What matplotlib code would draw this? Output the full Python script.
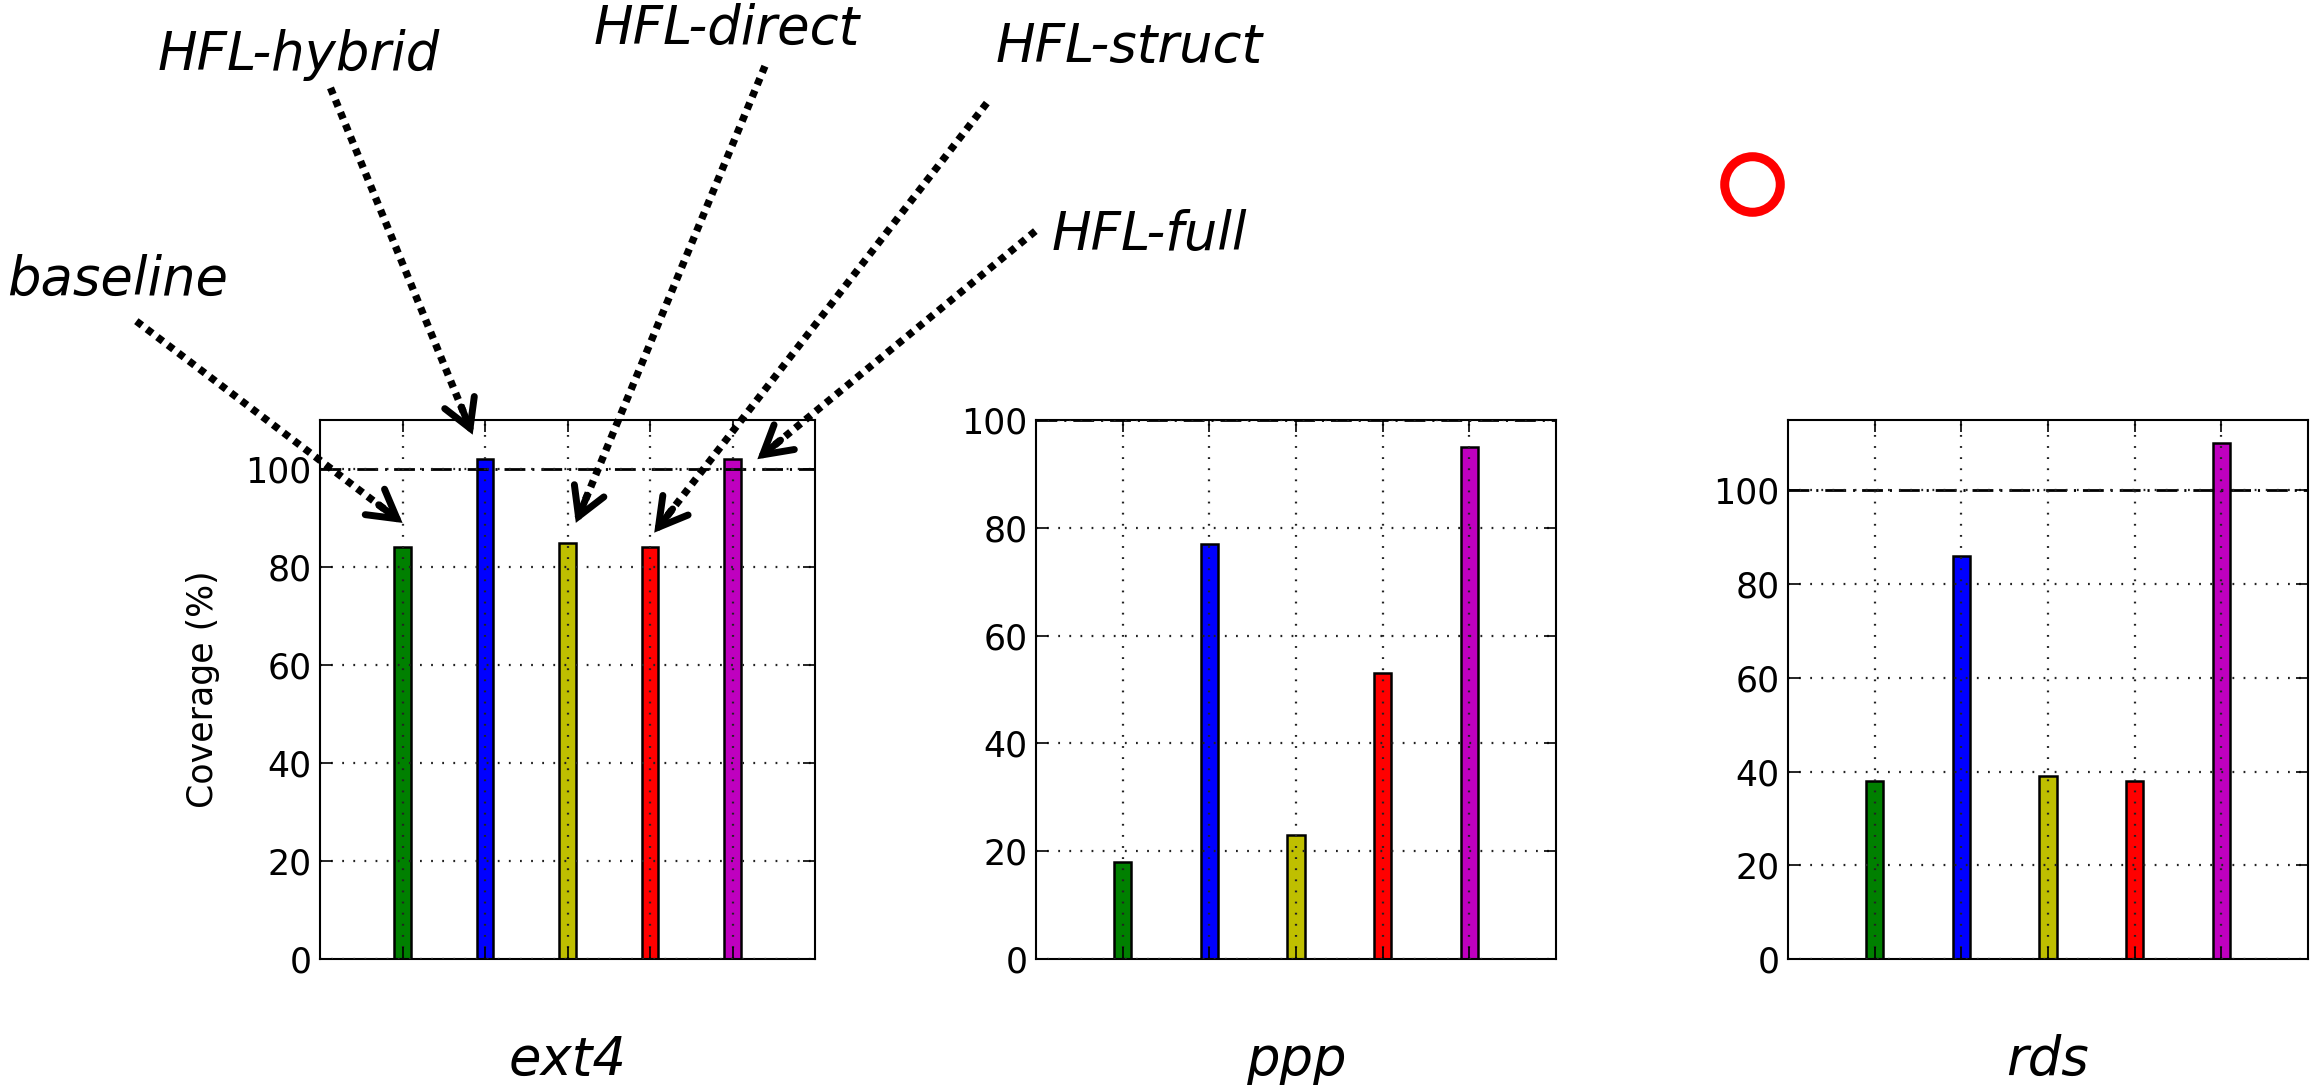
import math
import matplotlib
matplotlib.use("Agg")
import matplotlib.pyplot as plt
from matplotlib.lines import Line2D

plt.rcParams['font.family'] = ['DejaVu Sans']
plt.rcParams['lines.scale_dashes'] = False

benchmarks = ["ext4", "ppp", "rds"]
configs = ["baseline", "HFL-hybrid", "HFL-direct", "HFL-struct", "HFL-full"]
colors = ["#008000", "#0000ff", "#bfbf00", "#ff0000", "#bf00bf"]
coverage = {
    "ext4": [84, 102, 85, 84, 102],
    "ppp": [18, 77, 23, 53, 95],
    "rds": [38, 86, 39, 38, 110],
}
ylims = {"ext4": 110, "ppp": 100, "rds": 115}
yticks = [0, 20, 40, 60, 80, 100]

DPI = 100
fig = plt.figure(figsize=(23.11, 10.85), dpi=DPI)
positions = [(0.1385, 0.2142), (0.4483, 0.2250), (0.7737, 0.2250)]
axes = []
for (left, width), name in zip(positions, benchmarks):
    ax = fig.add_axes([left, 0.1161, width, 0.4968])
    xs = list(range(1, len(configs) + 1))
    ax.bar(xs, coverage[name], width=0.2, color=colors, edgecolor="black",
           linewidth=1.8, align="center", zorder=1)
    ax.axhline(100, color="black", linewidth=2.0, zorder=2,
               linestyle=(0, (15, 5, 1.5, 5)))
    ax.set_xlim(0, 6)
    ax.set_ylim(0, ylims[name])
    ax.set_xticks(xs)
    ax.set_xticklabels([])
    ax.set_yticks(yticks)
    ax.tick_params(axis="both", direction="in", top=True, right=True,
                   length=8.5, width=1.2, labelsize=25, pad=6)
    ax.grid(True, color="#222222", linewidth=1.6, linestyle=(0, (1.3, 6.7)))
    ax.set_axisbelow(False)
    for s in ax.spines.values():
        s.set_linewidth(1.5)
    ax.set_xlabel(name, fontsize=38, style="italic", labelpad=48)
    axes.append(ax)

axes[0].set_ylabel("Coverage (%)", fontsize=25, labelpad=18)

# Annotations for the first panel
ax0 = axes[0]
label_pos = [(0.003, 0.742), (0.068, 0.949), (0.257, 0.973), (0.431, 0.957), (0.455, 0.783)]
arrow_start = [(0.059, 0.704), (0.143, 0.919), (0.331, 0.939), (0.427, 0.905), (0.448, 0.787)]
arrow_tip = [(1.0, 89), (1.85, 107), (3.1, 89), (4.05, 87), (5.3, 102)]
W, H = fig.get_size_inches() * DPI
for lab, (tx, ty), (sx, sy), (px, py) in zip(configs, label_pos, arrow_start, arrow_tip):
    fig.text(tx, ty, lab, fontsize=38, style="italic", ha="left", va="center")
    # dotted shaft
    ax0.annotate("", xy=(px, py), xycoords="data",
                 xytext=(sx, sy), textcoords="figure fraction",
                 arrowprops=dict(arrowstyle="-", linestyle=(0, (5, 4.5)),
                                 linewidth=5.3, color="black",
                                 shrinkA=0, shrinkB=4, capstyle="butt"),
                 annotation_clip=False)
    # solid head
    tip_disp = ax0.transData.transform((px, py))
    st_disp = (sx * W, sy * H)
    dx, dy = st_disp[0] - tip_disp[0], st_disp[1] - tip_disp[1]
    d = math.hypot(dx, dy)
    back = (tip_disp[0] + dx / d * 30, tip_disp[1] + dy / d * 30)
    ax0.annotate("", xy=(px, py), xycoords="data",
                 xytext=(back[0] / W, back[1] / H), textcoords="figure fraction",
                 arrowprops=dict(arrowstyle="->,head_length=2.0,head_width=1.15",
                                 linestyle="-", linewidth=5, color="black",
                                 shrinkA=0, shrinkB=0, joinstyle="miter"),
                 annotation_clip=False)

# Red ring marker
fig.add_artist(Line2D([0.758], [0.830], transform=fig.transFigure, marker="o",
                      markersize=40, markerfacecolor="none",
                      markeredgecolor="red", markeredgewidth=6.5, linestyle="none"))

fig.savefig("out.png", dpi=DPI)
